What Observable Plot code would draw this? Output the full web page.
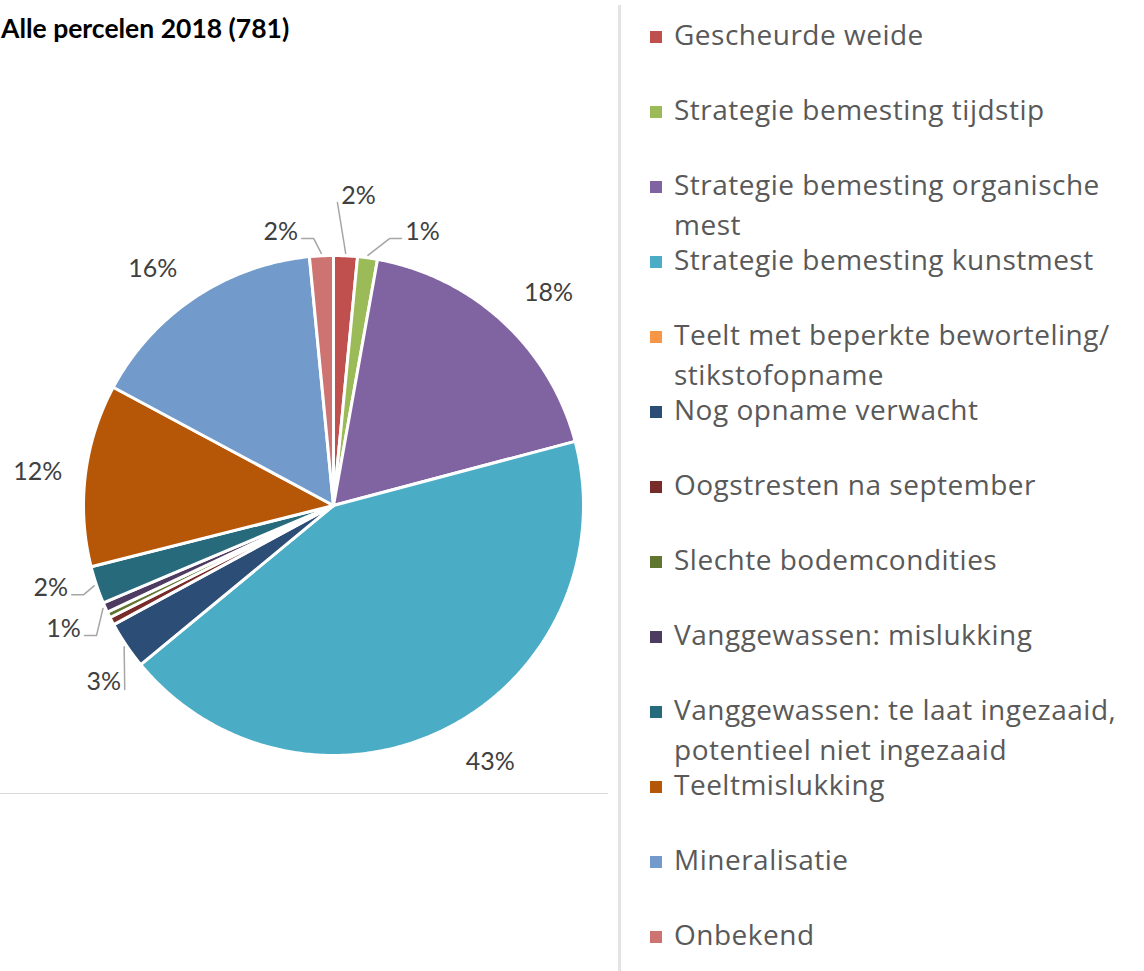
<!DOCTYPE html>
<html>
<head>
<meta charset="utf-8">
<script src="https://cdn.jsdelivr.net/npm/d3@7"></script>
<script src="https://cdn.jsdelivr.net/npm/@observablehq/plot@0.6"></script>
<style>
  html, body { margin: 0; padding: 0; background: #fff; }
  #wrap { position: relative; width: 1144px; height: 971px; overflow: hidden; }
  #title { position: absolute; left: 1px; top: 10px; font-family: Lato, "Open Sans", sans-serif; font-weight: 700; font-size: 26.5px; line-height: 36px; color: #000; z-index: 2; }
  #pie { position: absolute; left: 0; top: 0; }
  #vline { position: absolute; left: 618px; top: 5px; width: 3px; height: 966px; background: #e3e3e3; }
  #hline { position: absolute; left: 0; top: 793px; width: 608px; height: 1px; background: #d9d9d9; }
  #legend { position: absolute; left: 650px; top: 14px; }
  .item { position: relative; height: 75px; }
  .sw { position: absolute; left: 0; top: 17px; width: 12px; height: 12px; }
  .lt { position: absolute; left: 24px; top: 0; width: 470px; font-family: "Open Sans", sans-serif; font-size: 28px; letter-spacing: 0.5px; line-height: 40px; color: #595959; }
</style>
</head>
<body>
<div id="wrap">
  <div id="title"></div>
  <div id="pie"></div>
  <div id="vline"></div>
  <div id="hline"></div>
  <div id="legend"></div>
</div>
<script>
// ---- data ----
const title = "Alle percelen 2018 (781)";
const categories = [
  "Gescheurde weide",
  "Strategie bemesting tijdstip",
  "Strategie bemesting organische mest",
  "Strategie bemesting kunstmest",
  "Teelt met beperkte beworteling/stikstofopname",
  "Nog opname verwacht",
  "Oogstresten na september",
  "Slechte bodemcondities",
  "Vanggewassen: mislukking",
  "Vanggewassen: te laat ingezaaid, potentieel niet ingezaaid",
  "Teeltmislukking",
  "Mineralisatie",
  "Onbekend"
];
const counts = [12, 10, 141, 337, 0, 24, 4, 3, 5, 19, 92, 122, 12];
const colors = [
  "#C0504D", "#9BBB59", "#8064A2", "#4BACC6", "#F79646", "#2C4D75",
  "#772C2A", "#5F7530", "#4D3B62", "#276A7C", "#B65708", "#729ACA", "#CD7371"
];
// categories whose percentage label is shown
const labelled = [
  "Gescheurde weide", "Strategie bemesting tijdstip", "Strategie bemesting organische mest",
  "Strategie bemesting kunstmest", "Nog opname verwacht", "Vanggewassen: mislukking",
  "Vanggewassen: te laat ingezaaid, potentieel niet ingezaaid", "Teeltmislukking",
  "Mineralisatie", "Onbekend"
];

// ---- layout config ----
const R = 250;                // pie radius in px
const CX = 333, CY = 505;     // pie center in px
const W = 610, H = 790;
const labelPlacement = {
  "Gescheurde weide": {angle: 4.6, r: 1.244, leader: true},
  "Strategie bemesting tijdstip": {angle: 18.0, r: 1.152, leader: true},
  "Strategie bemesting organische mest": {angle: 45.4, r: 1.208},
  "Strategie bemesting kunstmest": {angle: 148.6, r: 1.204},
  "Nog opname verwacht": {angle: 232.4, r: 1.16, leader: true},
  "Vanggewassen: mislukking": {angle: 245.5, r: 1.187, leader: true},
  "Vanggewassen: te laat ingezaaid, potentieel niet ingezaaid": {angle: 253.8, r: 1.178, leader: true},
  "Teeltmislukking": {angle: 276.4, r: 1.19},
  "Mineralisatie": {angle: 322.6, r: 1.19},
  "Onbekend": {angle: 349.1, r: 1.116, leader: true}
};

document.getElementById("title").textContent = title;

const rows = categories.map((name, i) => ({name, count: counts[i]}));
const total = d3.sum(counts);
const arcs = d3.pie().sort(null).value(d => d.count)(rows);

// slice polygons in unit coordinates (y up)
const poly = [];
for (const a of arcs) {
  if (a.endAngle <= a.startAngle) continue;
  const name = a.data.name;
  poly.push({name, x: 0, y: 0});
  const n = Math.max(2, Math.ceil((a.endAngle - a.startAngle) / (Math.PI / 360)));
  for (let k = 0; k <= n; k++) {
    const t = a.startAngle + (a.endAngle - a.startAngle) * k / n;
    poly.push({name, x: Math.sin(t), y: Math.cos(t)});
  }
  poly.push({name, x: 0, y: 0});
}

// labels and leaders
const px = 1 / R;
const labels = [], leaders = [];
for (const a of arcs) {
  const name = a.data.name;
  if (!labelled.includes(name)) continue;
  const p = labelPlacement[name];
  const th = p.angle * Math.PI / 180;
  const L = {x: p.r * Math.sin(th), y: p.r * Math.cos(th)};
  labels.push({name, x: L.x, y: L.y, text: Math.round(100 * a.data.count / total) + "%"});
  if (p.leader) {
    const mid = (a.startAngle + a.endAngle) / 2;
    const E = {x: 1.01 * Math.sin(mid), y: 1.01 * Math.cos(mid)};
    const side = Math.sign(E.x - L.x) || 1;
    const S = {x: L.x + side * 21 * px, y: L.y - 7 * px};
    const pts = [S];
    if (Math.abs(E.x - S.x) / px > 10) pts.push({x: S.x + side * 12 * px, y: S.y});
    pts.push(E);
    for (const q of pts) leaders.push({name, x: q.x, y: q.y});
  }
}

const chart = Plot.plot({
  width: W,
  height: H,
  margin: 0,
  x: {domain: [-CX / R, (W - CX) / R], axis: null},
  y: {domain: [-(H - CY) / R, CY / R], axis: null},
  color: {domain: categories, range: colors},
  style: {background: "transparent"},
  marks: [
    Plot.line(poly, {x: "x", y: "y", z: "name", fill: "name", stroke: "white", strokeWidth: 3, strokeLinejoin: "round"}),
    Plot.line(leaders, {x: "x", y: "y", z: "name", stroke: "#a6a6a6", strokeWidth: 1.5}),
    Plot.text(labels, {x: "x", y: "y", text: "text", fill: "#404040", fontSize: 25, fontFamily: "Lato, sans-serif"})
  ]
});
document.getElementById("pie").appendChild(chart);

// legend
const legend = document.getElementById("legend");
categories.forEach((name, i) => {
  const item = document.createElement("div");
  item.className = "item";
  const sw = document.createElement("div");
  sw.className = "sw";
  sw.style.background = colors[i];
  const lt = document.createElement("div");
  lt.className = "lt";
  lt.textContent = name.replace("/", "/\u200B");
  item.appendChild(sw);
  item.appendChild(lt);
  legend.appendChild(item);
});
</script>
</body>
</html>
